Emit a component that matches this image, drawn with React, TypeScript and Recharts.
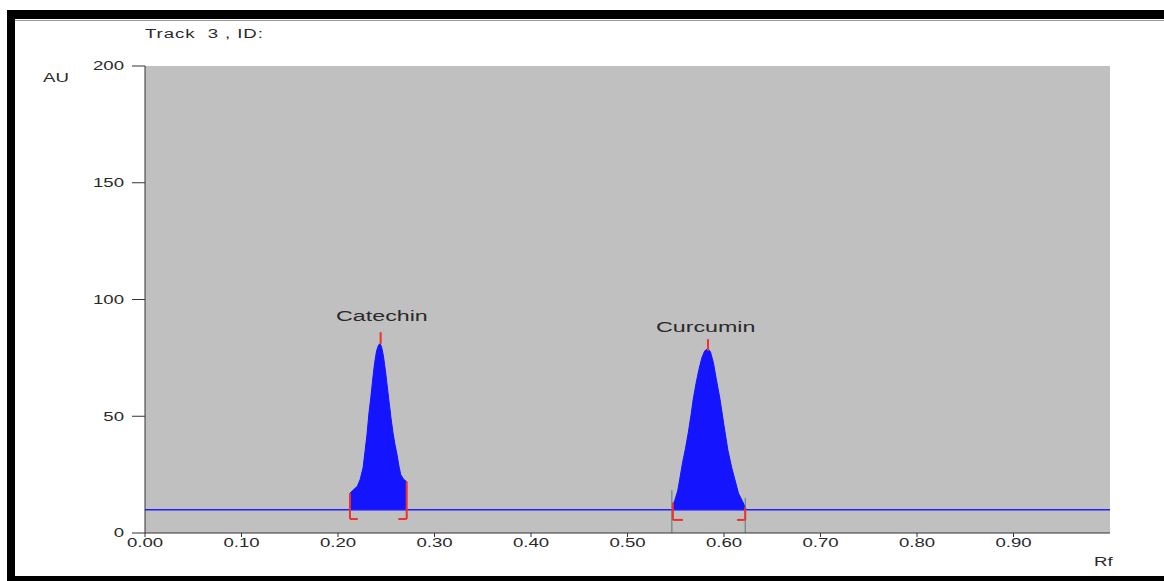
import {
  Area,
  CartesianGrid,
  ComposedChart,
  Line,
  ReferenceDot,
  ReferenceLine,
  XAxis,
  YAxis,
} from 'recharts'

const RF_TICKS = [0, 0.1, 0.2, 0.3, 0.4, 0.5, 0.6, 0.7, 0.8, 0.9]
const AU_TICKS = [0, 50, 100, 150, 200]
const BASELINE = 10

// densitogram readings, catechin band
const catechinRf = [
  0.2124, 0.216, 0.22, 0.223, 0.226, 0.228, 0.23, 0.232, 0.234, 0.236, 0.238, 0.24, 0.242,
  0.2435, 0.245, 0.247, 0.249, 0.251, 0.253, 0.255, 0.257, 0.259, 0.261, 0.263, 0.265, 0.268,
  0.2712,
]
const catechinAu = [
  17, 18.5, 20, 23, 28, 35, 42, 51, 58, 66, 73, 78, 80.5, 81, 80, 76, 70, 63, 56, 49, 43, 38,
  34, 29, 25, 23, 22,
]

// curcumin band
const curcuminRf = [
  0.547, 0.549, 0.552, 0.554, 0.557, 0.56, 0.563, 0.566, 0.568, 0.571, 0.574, 0.577, 0.58,
  0.5834, 0.586, 0.589, 0.592, 0.596, 0.6, 0.604, 0.608, 0.6114, 0.615, 0.6187, 0.622,
]
const curcuminAu = [
  12, 14, 18, 22.7, 30, 36, 43, 51, 57, 64, 70, 75, 78, 79, 77.5, 73, 66, 57, 46, 35.5, 28,
  22.7, 17, 14, 11,
]

// integration brackets
const brackets = [
  { rf: 0.2124, low: 6, high: 17, foot: 0.2205 },
  { rf: 0.2712, low: 6, high: 22, foot: 0.2625 },
  { rf: 0.547, low: 5.6, high: 13, foot: 0.5575 },
  { rf: 0.622, low: 5.6, high: 11, foot: 0.6135 },
]
// apex marks
const apexMarks = [
  { rf: 0.2442, from: 81, to: 86 },
  { rf: 0.5834, from: 78, to: 83 },
]
// peak separators for curcumin
const separators = [
  { rf: 0.546, top: 18.4 },
  { rf: 0.622, top: 15 },
]
const peakLabels = [
  { name: 'Catechin', rf: 0.2455, au: 93 },
  { name: 'Curcumin', rf: 0.581, au: 88.5 },
]

const toPoints = (rf: number[], au: number[]) => rf.map((x, i) => ({ rf: x, au: au[i] }))
const catechin = toPoints(catechinRf, catechinAu)
const curcumin = toPoints(curcuminRf, curcuminAu)
const signal = [
  { rf: 0, au: BASELINE },
  { rf: 1, au: BASELINE },
]

const RED = '#f0302a'
const BLUE = '#1414ff'
const FONT = 'Liberation Sans'
const STRETCH = 1.55

// the scanner software prints its text horizontally stretched
function StretchText(props: any) {
  const { x, y, anchor, size, dy, children } = props
  return (
    <text
      transform={`translate(${x},${y}) scale(${STRETCH},1)`}
      textAnchor={anchor}
      dy={dy}
      fontSize={size}
      fontFamily={FONT}
      fill="#2a2a2a"
    >
      {children}
    </text>
  )
}

const XTick = (p: any) => (
  <StretchText x={p.x} y={p.y} anchor="middle" size={12} dy="0.71em">
    {Number(p.payload.value).toFixed(2)}
  </StretchText>
)
const YTick = (p: any) => (
  <StretchText x={p.x} y={p.y} anchor="end" size={12} dy="0.355em">
    {p.payload.value}
  </StretchText>
)

const html = {
  position: 'absolute' as const,
  fontFamily: FONT,
  fontSize: 12,
  color: '#2a2a2a',
  transform: `scaleX(${STRETCH})`,
  transformOrigin: 'left top',
  whiteSpace: 'pre' as const,
  lineHeight: '14px',
}

export default function App() {
  return (
    <div style={{ position: 'absolute', left: 0, top: 0, width: 1164, height: 581, background: '#fff', overflow: 'hidden' }}>
      <div style={{ position: 'absolute', left: 7, top: 10, width: 1157, height: 9, background: '#000' }} />
      <div style={{ position: 'absolute', left: 7, top: 10, width: 8, height: 571, background: '#000' }} />
      <div style={{ position: 'absolute', left: 7, top: 576, width: 1157, height: 5, background: '#000' }} />
      <div style={{ position: 'absolute', left: 15, top: 20, width: 1149, height: 1, background: '#999' }} />

      <div style={{ ...html, left: 145, top: 27, letterSpacing: 0.6 }}>{'Track  3 , ID:'}</div>
      <div style={{ ...html, left: 43, top: 71 }}>AU</div>
      <div style={{ ...html, left: 1094, top: 555 }}>Rf</div>

      <ComposedChart
        width={1164}
        height={581}
        margin={{ top: 66, right: 54, bottom: 18, left: 85 }}
        style={{ position: 'absolute', left: 0, top: 0 }}
      >
        <CartesianGrid fill="#c0c0c0" horizontal={false} vertical={false} />
        <XAxis
          dataKey="rf"
          type="number"
          domain={[0, 1]}
          ticks={RF_TICKS}
          allowDataOverflow
          height={30}
          tickSize={4}
          tickMargin={1}
          tick={XTick}
          stroke="#333"
        />
        <YAxis
          type="number"
          domain={[0, 200]}
          ticks={AU_TICKS}
          width={60}
          tickSize={13}
          tickMargin={8}
          tick={YTick}
          stroke="#333"
        />
        <Area
          data={catechin}
          dataKey={(d: { au: number }) => [BASELINE, d.au]}
          type="linear"
          stroke={BLUE}
          strokeWidth={1}
          fill={BLUE}
          fillOpacity={1}
          isAnimationActive={false}
        />
        <Area
          data={curcumin}
          dataKey={(d: { au: number }) => [BASELINE, d.au]}
          type="linear"
          stroke={BLUE}
          strokeWidth={1}
          fill={BLUE}
          fillOpacity={1}
          isAnimationActive={false}
        />
        <Line
          data={signal}
          dataKey="au"
          type="linear"
          stroke="#2020ff"
          strokeWidth={1.5}
          dot={false}
          isAnimationActive={false}
        />
        {separators.map((s) => (
          <ReferenceLine
            key={'s' + s.rf}
            segment={[{ x: s.rf, y: 0 }, { x: s.rf, y: s.top }]}
            stroke="#4a7f80"
            strokeWidth={1}
          />
        ))}
        {brackets.map((b) => (
          <ReferenceLine
            key={'bv' + b.rf}
            segment={[{ x: b.rf, y: b.low }, { x: b.rf, y: b.high }]}
            stroke={RED}
            strokeWidth={2}
          />
        ))}
        {brackets.map((b) => (
          <ReferenceLine
            key={'bh' + b.rf}
            segment={[{ x: b.rf, y: b.low }, { x: b.foot, y: b.low }]}
            stroke={RED}
            strokeWidth={2}
          />
        ))}
        {apexMarks.map((m) => (
          <ReferenceLine
            key={'a' + m.rf}
            segment={[{ x: m.rf, y: m.from }, { x: m.rf, y: m.to }]}
            stroke={RED}
            strokeWidth={2}
          />
        ))}
        {peakLabels.map((p) => (
          <ReferenceDot
            key={p.name}
            x={p.rf}
            y={p.au}
            r={0}
            shape={(s: any) => (
              <StretchText x={s.cx} y={s.cy} anchor="middle" size={15} dy="0.355em">
                {p.name}
              </StretchText>
            )}
          />
        ))}
      </ComposedChart>
    </div>
  )
}
